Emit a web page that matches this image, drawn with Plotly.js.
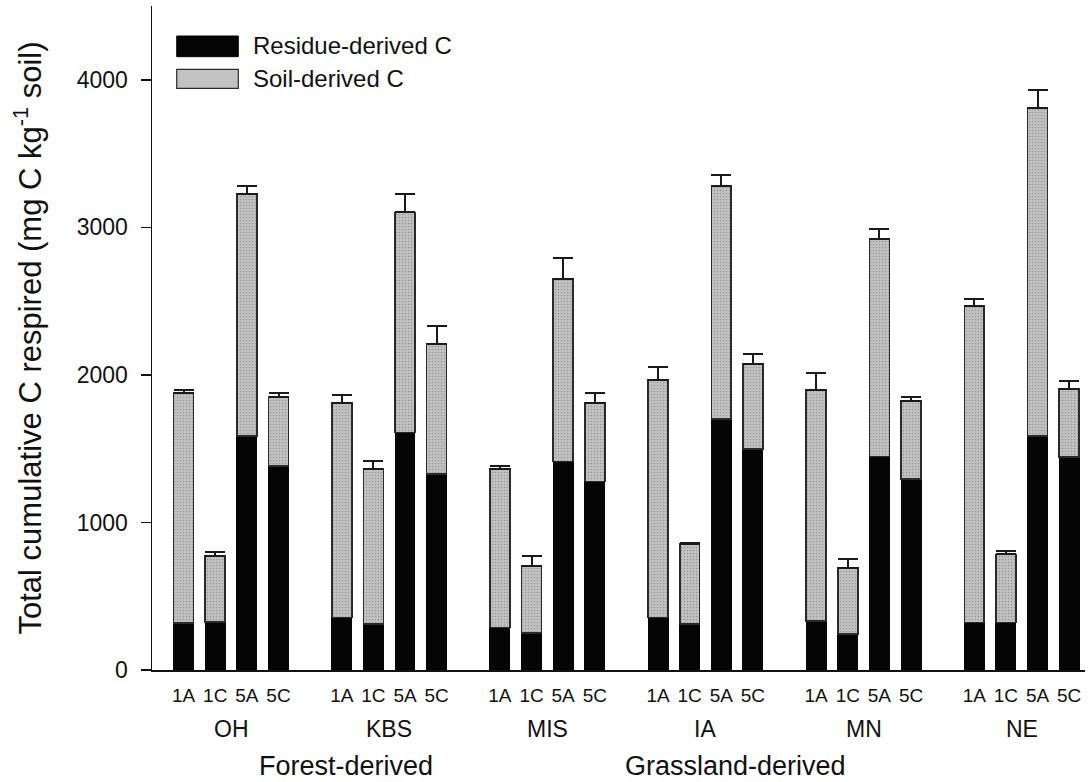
<!DOCTYPE html>
<html>
<head>
<meta charset="utf-8">
<script src="https://cdn.plot.ly/plotly-3.0.1.min.js"></script>
<style>
  html, body { margin: 0; padding: 0; background: #fff; }
  #chart { width: 1090px; height: 782px; }
</style>
</head>
<body>
<div id="chart"></div>
<script>
// Sites, treatments and origin groups
const sites = ['OH', 'KBS', 'MIS', 'IA', 'MN', 'NE'];
const treatments = ['1A', '1C', '5A', '5C'];
const origins = ['Forest-derived', 'Grassland-derived'];

// Residue-derived C (mg C kg-1 soil), per site in treatment order
const residueC = [
  317, 325, 1586, 1383,   // OH
  357, 310, 1609, 1327,   // KBS
  289, 249, 1412, 1277,   // MIS
  355, 312, 1700, 1496,   // IA
  332, 242, 1446, 1293,   // MN
  323, 323, 1586, 1442    // NE
];

// Total cumulative C respired (residue + soil)
const totalC = [
  1876, 775, 3225, 1849,
  1812, 1363, 3101, 2210,
  1363, 707, 2649, 1812,
  1966, 852, 3281, 2075,
  1898, 694, 2920, 1826,
  2470, 784, 3808, 1905
];

// Standard error of the total
const totalSE = [
  22, 23, 56, 31,
  50, 56, 124, 124,
  20, 66, 144, 68,
  86, 11, 73, 67,
  118, 61, 72, 27,
  43, 25, 120, 54
];

// Soil-derived part is the remainder above the residue segment
const soilC = totalC.map((t, i) => t - residueC[i]);

// Each site takes five slots: four bars and one empty gap
const slotsPerSite = treatments.length + 1;
const xPos = [];
const tickText = [];
sites.forEach((s, si) => {
  treatments.forEach((t, ti) => {
    xPos.push(si * slotsPerSite + ti);
    tickText.push(t);
  });
});

const barWidth = 0.63;
const soilGray = '#c3c3c3';

const traces = [
  {
    type: 'bar',
    name: 'Residue-derived C',
    x: xPos,
    y: residueC,
    width: barWidth,
    marker: { color: '#050505', line: { color: '#050505', width: 1 } },
    showlegend: false,
    hoverinfo: 'y'
  },
  {
    type: 'bar',
    name: 'Soil-derived C',
    x: xPos,
    y: soilC,
    width: barWidth,
    marker: {
      color: soilGray,
      line: { color: '#2a2a2a', width: 1.6 },
      pattern: { shape: '.', fgcolor: '#9a9a9a', bgcolor: soilGray, size: 3, solidity: 0.25 }
    },
    error_y: {
      type: 'data',
      symmetric: false,
      array: totalSE,
      arrayminus: totalSE.map(() => 0),
      color: '#1a1a1a',
      thickness: 2,
      width: 10
    },
    showlegend: false,
    hoverinfo: 'y'
  }
];

const font = 'Arial, "Liberation Sans", Helvetica, sans-serif';

const annotations = [];
// Site names under each block of four bars
sites.forEach((s, si) => {
  annotations.push({
    x: si * slotsPerSite + 1.5, y: 0, xref: 'x', yref: 'y',
    text: s, showarrow: false, yanchor: 'top', yshift: -44,
    font: { family: font, size: 23, color: '#111' }
  });
});
// Origin groups
annotations.push({
  x: 5.14, y: 0, xref: 'x', yref: 'y', text: origins[0], showarrow: false,
  yanchor: 'top', yshift: -79, font: { family: font, size: 27, color: '#111' }
});
annotations.push({
  x: 17.45, y: 0, xref: 'x', yref: 'y', text: origins[1], showarrow: false,
  yanchor: 'top', yshift: -79, font: { family: font, size: 27, color: '#111' }
});
// Legend labels
annotations.push({
  x: 0.106, y: 0.9398, xref: 'paper', yref: 'paper', text: 'Residue-derived C',
  showarrow: false, xanchor: 'left', yanchor: 'middle',
  font: { family: font, size: 24, color: '#111' }
});
annotations.push({
  x: 0.106, y: 0.8908, xref: 'paper', yref: 'paper', text: 'Soil-derived C',
  showarrow: false, xanchor: 'left', yanchor: 'middle',
  font: { family: font, size: 24, color: '#111' }
});

const shapes = [
  // Legend swatches
  { type: 'rect', xref: 'paper', yref: 'paper', x0: 0.0265, x1: 0.0925, y0: 0.9237, y1: 0.9548,
    fillcolor: '#050505', line: { color: '#050505', width: 1 } },
  { type: 'rect', xref: 'paper', yref: 'paper', x0: 0.0265, x1: 0.0925, y0: 0.876, y1: 0.9047,
    fillcolor: soilGray, line: { color: '#2a2a2a', width: 1.2 } }
];

const layout = {
  width: 1090,
  height: 782,
  margin: { l: 152, r: 5, t: 6, b: 112 },
  paper_bgcolor: '#ffffff',
  plot_bgcolor: '#ffffff',
  barmode: 'stack',
  showlegend: false,
  font: { family: font, color: '#111' },
  xaxis: {
    range: [-1.0, 28.5],
    tickmode: 'array',
    tickvals: xPos,
    ticktext: tickText,
    ticks: '',
    tickfont: { family: font, size: 19, color: '#111' },
    ticklabelstandoff: 7,
    showgrid: false,
    zeroline: false,
    showline: true,
    linecolor: '#111',
    linewidth: 2,
    fixedrange: true
  },
  yaxis: {
    range: [0, 4500],
    tickvals: [0, 1000, 2000, 3000, 4000],
    ticks: 'outside',
    ticklen: 10,
    tickwidth: 1.5,
    tickcolor: '#111',
    tickfont: { family: font, size: 23, color: '#111' },
    ticklabelstandoff: 8,
    showgrid: false,
    zeroline: false,
    showline: true,
    linecolor: '#111',
    linewidth: 1.5,
    title: {
      text: 'Total cumulative C respired (mg C kg<sup>-1</sup> soil)',
      font: { family: font, size: 31, color: '#111' },
      standoff: 26
    },
    fixedrange: true
  },
  annotations: annotations,
  shapes: shapes
};

Plotly.newPlot('chart', traces, layout, { displayModeBar: false, staticPlot: true });
</script>
</body>
</html>
